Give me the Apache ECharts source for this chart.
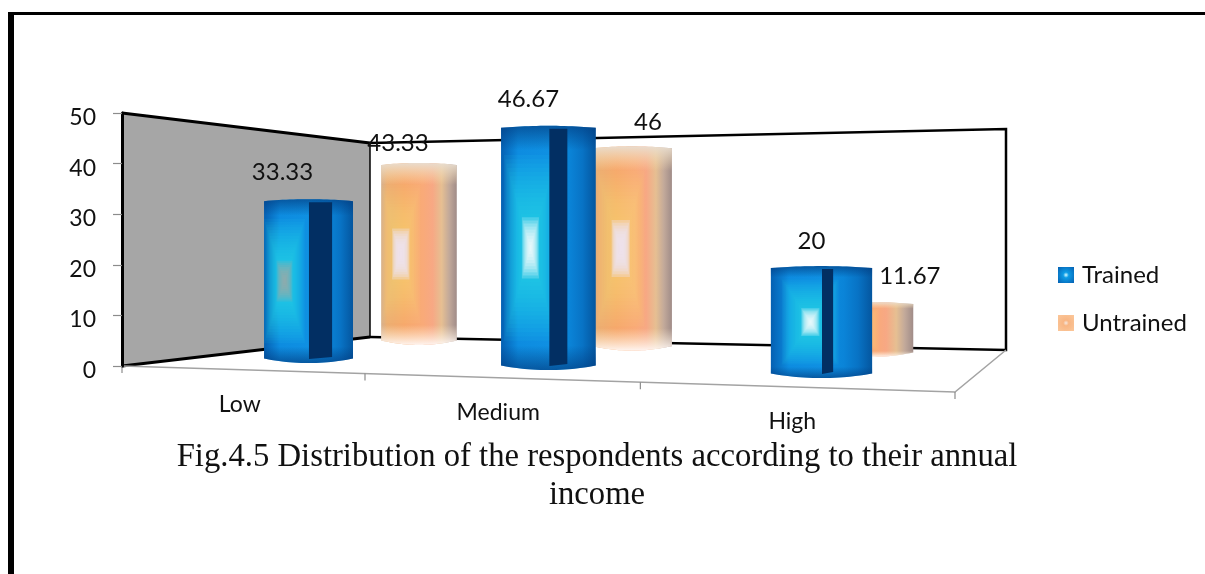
<!DOCTYPE html>
<html>
<head>
<meta charset="utf-8">
<title>Annual income of respondents</title>
<script src="https://cdn.jsdelivr.net/npm/echarts@6/dist/echarts.min.js"></script>
<style>
  html, body { margin: 0; padding: 0; background: #fff; }
  #chart { width: 1205px; height: 574px; }
</style>
</head>
<body>
<div id="chart"></div>
<script>
// Chart values
const categories = ['Low', 'Medium', 'High'];
const trained = [33.33, 46.67, 20];
const untrained = [43.33, 46, 11.67];
const titleLines = ['Fig.4.5 Distribution of the respondents according to their annual', 'income'];

// Plot frame of the value axis; the category axis runs along its bottom.
const GRID = { left: 122, top: 113, width: 833, height: 253 };
const bandWidth = GRID.width / categories.length;
const unitHeight = GRID.height / 50;

// Perspective of the floor's front edge.
const FRONT = { x0: 122, a: 221.55, g: -0.05876, y0: 366, slope: 0.0313 };
function frontEdge(u) {
  const x = (FRONT.x0 + FRONT.a * u) / (1 + FRONT.g * u);
  return [x, FRONT.y0 + (x - FRONT.x0) * FRONT.slope];
}

// Each series stands on its own depth lane, nearer on the right-hand side.
const LANES = {
  Trained: {
    x0: 199.2, a: 200.45, g: -0.059, s0: 4.77, refX: 308.5, refY: 363, slope: 0.02924, widthUnits: 18.1,
    sweep: [
      [0, '#0560b2'], [0.18, '#0d8ce0'], [0.5, '#0f90e2'], [0.72, '#0a84d8'], [0.86, '#0873c5'], [1, '#04569f']
    ],
    shade: [
      [0, 'rgba(2,58,125,0.65)'], [0.1, 'rgba(2,58,125,0)'], [0.9, 'rgba(2,58,125,0)'], [1, 'rgba(2,58,125,0.65)']
    ],
    glow: '#27e2ea', glowAlpha: 0.07, glowW: 0.28, glowH: 0.38,
    core: ['#9ba8a8', '#ffffff', '#ffffff'], coreW: 0.09, coreH: 0.125, coreAlpha: 0.2,
    centre: [0.23, 0.31, 0.39],
    strip: [[0.505, 0.26], [0.51, 0.19], [0.505, 0.11]],
    nudge: [[-26, -27], [-20, -27], [-10, -25]]
  },
  Untrained: {
    x0: 320.9, a: 174, g: -0.0528, s0: 4.09, refX: 419, refY: 345, slope: 0.02655, widthUnits: 18,
    sweep: [
      [0, '#d6b08e'], [0.08, '#ecae72'], [0.3, '#f6a86c'], [0.55, '#f9aa78'], [0.68, '#f7a884'], [0.8, '#e6bf92'], [0.9, '#c2a99a'], [1, '#a08c88']
    ],
    shade: [
      [0, 'rgba(232,222,210,0.95)'], [0.12, 'rgba(252,226,178,0)'], [0.89, 'rgba(255,240,215,0)'], [1, 'rgba(255,248,246,0.95)']
    ],
    glow: '#fdd67c', glowAlpha: 0.06, glowW: 0.3, glowH: 0.38,
    core: ['#efe3ef', '#efe3ef', '#efe3ef'], coreW: 0.115, coreH: 0.14, coreAlpha: 0.35,
    centre: [0.26, 0.36, 0.3],
    strip: null,
    nudge: [[-21, -20], [16, -24], [39, -26]]
  }
};

const stops = list => list.map(([offset, color]) => ({ offset, color }));
const horizontal = list => new echarts.graphic.LinearGradient(0, 0, 1, 0, stops(list));
const vertical = list => new echarts.graphic.LinearGradient(0, 0, 0, 1, stops(list));

// Outline of a cylinder seen slightly from above.
function cylinderOutline(l, r, top, bottom) {
  const steps = 24, pts = [];
  for (let k = 0; k <= steps; k++) {
    const t = (k / steps) * 2 - 1;
    pts.push([(l + r) / 2 + t * (r - l) / 2, top + 2 * t * t]);
  }
  for (let k = steps; k >= 0; k--) {
    const t = (k / steps) * 2 - 1;
    pts.push([(l + r) / 2 + t * (r - l) / 2, bottom - 4.5 * t * t]);
  }
  return pts;
}

function box(cx, cy, hw, hh) {
  return [[cx - hw, cy - hh], [cx + hw, cy - hh], [cx + hw, cy + hh], [cx - hw, cy + hh]];
}

// Draws one cylinder and its value label; position and height come from the axes.
function renderCylinder(lane, params, api) {
  const idx = api.value(0);
  const value = api.value(1);
  const foot = api.coord([idx, 0]);
  const head = api.coord([idx, value]);
  const u = (foot[0] - GRID.left) / bandWidth;
  const rise = (foot[1] - head[1]) / unitHeight;

  const w = 1 + lane.g * u;
  const scale = lane.s0 / w;
  const cx = (lane.x0 + lane.a * u) / w;
  const bottom = lane.refY + (cx - lane.refX) * lane.slope;
  const top = bottom - rise * scale;
  const half = lane.widthUnits * scale / 2;
  const l = cx - half, r = cx + half, W = r - l, H = bottom - top;
  const outline = cylinderOutline(l, r, top, bottom);

  const children = [
    { type: 'polygon', shape: { points: outline }, style: { fill: horizontal(lane.sweep) } }
  ];

  // Rectangular glow built from nested translucent boxes.
  const gx = l + lane.centre[idx] * W, gy = (top + bottom) / 2;
  const layers = 22;
  for (let k = 0; k < layers; k++) {
    const f = 1 - k / layers;
    children.push({
      type: 'polygon',
      shape: { points: box(gx, gy, Math.min(lane.glowW * W, gx - l) * f, lane.glowH * H * f) },
      style: { fill: lane.glow, opacity: lane.glowAlpha }
    });
  }
  const coreLayers = 10;
  for (let k = 0; k < coreLayers; k++) {
    const f = 1 - k / coreLayers;
    children.push({
      type: 'polygon',
      shape: { points: box(gx, gy, lane.coreW * W * f, lane.coreH * H * f) },
      style: { fill: lane.core[idx], opacity: lane.coreAlpha }
    });
  }

  children.push({ type: 'polygon', shape: { points: outline }, style: { fill: vertical(lane.shade) } });

  if (lane.strip) {
    const [start, share] = lane.strip[idx];
    const a = l + start * W, b = a + share * W;
    children.push({
      type: 'polygon',
      shape: { points: [[a, top + 3], [b, top + 3], [b, bottom - 6], [a, bottom - 4]] },
      style: { fill: '#022f63' }
    });
  }

  const [dx, dy] = lane.nudge[idx];
  children.push({
    type: 'text',
    style: {
      text: String(value), x: cx + dx, y: top + dy, align: 'center', verticalAlign: 'middle',
      fill: '#111', font: '24px Lato'
    }
  });
  return { type: 'group', children };
}

// Side wall, back wall and floor outline behind the cylinders.
function renderChamber() {
  const lt = [GRID.left, GRID.top], lb = [GRID.left, GRID.top + GRID.height];
  const bl = [370, 337], tl = [370, 143], tr = [1006, 129], br = [1006, 350];
  const fr = frontEdge(categories.length);
  const line = (points, color, width) => ({
    type: 'polyline', shape: { points }, style: { stroke: color, lineWidth: width, fill: null }
  });
  const children = [
    { type: 'polygon', shape: { points: [lt, tl, bl, lb] }, style: { fill: '#a6a6a6' } },
    line([lt, tl], '#000', 3),
    line([lb, bl], '#000', 3),
    line([tl, bl], '#000', 1.5),
    line([tl, tr, br, bl], '#000', 2.5),
    line([lb, fr, br], '#a3a3a3', 1.5)
  ];
  for (let u = 0; u <= categories.length; u++) {
    const p = frontEdge(u);
    children.push(line([p, [p[0], p[1] + 7]], '#8c8c8c', 1.2));
  }
  return { type: 'group', children };
}

// Category names follow the slanted front edge of the floor.
function renderCategory(params, api) {
  const idx = api.value(0);
  const foot = api.coord([idx, 0]);
  const p = frontEdge((foot[0] - GRID.left) / bandWidth);
  return {
    type: 'text',
    style: {
      text: categories[idx], x: p[0], y: p[1] + 35, align: 'center', verticalAlign: 'middle',
      fill: '#111', font: '23px Lato'
    }
  };
}

const swatch = (outer, mid, inner) => new echarts.graphic.RadialGradient(0.5, 0.5, 0.7, [
  { offset: 0, color: inner }, { offset: 0.25, color: mid }, { offset: 1, color: outer }
]);

const chart = echarts.init(document.getElementById('chart'));
chart.setOption({
  animation: false,
  backgroundColor: '#fff',
  title: {
    text: titleLines.join('\n'),
    left: 592,
    top: 433,
    textAlign: 'center',
    textStyle: {
      fontFamily: 'Liberation Serif', fontWeight: 'normal', fontSize: 32.7, lineHeight: 38, color: '#111'
    }
  },
  legend: {
    orient: 'vertical',
    left: 1053,
    top: 258,
    itemWidth: 16,
    itemHeight: 16,
    itemGap: 24,
    textStyle: { fontFamily: 'Lato', fontSize: 24, color: '#111', padding: [0, 0, 0, 3] },
    data: [
      { name: 'Trained', icon: 'rect', itemStyle: { color: swatch('#0560b2', '#0d9ce6', '#d8fbff') } },
      { name: 'Untrained', icon: 'rect', itemStyle: { color: swatch('#fbc79a', '#f8b684', '#f6e8df') } }
    ]
  },
  grid: { left: GRID.left, top: GRID.top, width: GRID.width, height: GRID.height },
  xAxis: { type: 'category', data: categories, show: false },
  yAxis: {
    type: 'value', min: 0, max: 50, interval: 10, z: 10,
    splitLine: { show: false },
    axisLine: { show: true, lineStyle: { color: '#000', width: 3 } },
    axisTick: { show: true, length: 9, lineStyle: { color: '#8c8c8c', width: 1.2 } },
    axisLabel: {
      color: '#111', fontFamily: 'Lato', fontSize: 23, margin: 26,
      verticalAlign: 'top', lineHeight: 9
    }
  },
  graphic: [
    { type: 'rect', z: 0, shape: { x: 8, y: 12, width: 6, height: 562 }, style: { fill: '#000' } },
    { type: 'rect', z: 0, shape: { x: 8, y: 12, width: 1197, height: 3 }, style: { fill: '#000' } }
  ],
  series: [
    {
      name: 'chamber', type: 'custom', coordinateSystem: 'cartesian2d', z: 1, silent: true,
      renderItem: renderChamber, data: [[0, 0]]
    },
    {
      name: 'categories', type: 'custom', coordinateSystem: 'cartesian2d', z: 1, silent: true,
      renderItem: renderCategory, data: categories.map((c, i) => [i, 0])
    },
    {
      name: 'Untrained', type: 'custom', coordinateSystem: 'cartesian2d', z: 2,
      itemStyle: { color: '#f6b27c' },
      renderItem: (p, a) => renderCylinder(LANES.Untrained, p, a),
      encode: { x: 0, y: 1 },
      data: untrained.map((v, i) => [i, v])
    },
    {
      name: 'Trained', type: 'custom', coordinateSystem: 'cartesian2d', z: 3,
      itemStyle: { color: '#0d8ce0' },
      renderItem: (p, a) => renderCylinder(LANES.Trained, p, a),
      encode: { x: 0, y: 1 },
      data: trained.map((v, i) => [i, v])
    }
  ]
});
</script>
</body>
</html>
